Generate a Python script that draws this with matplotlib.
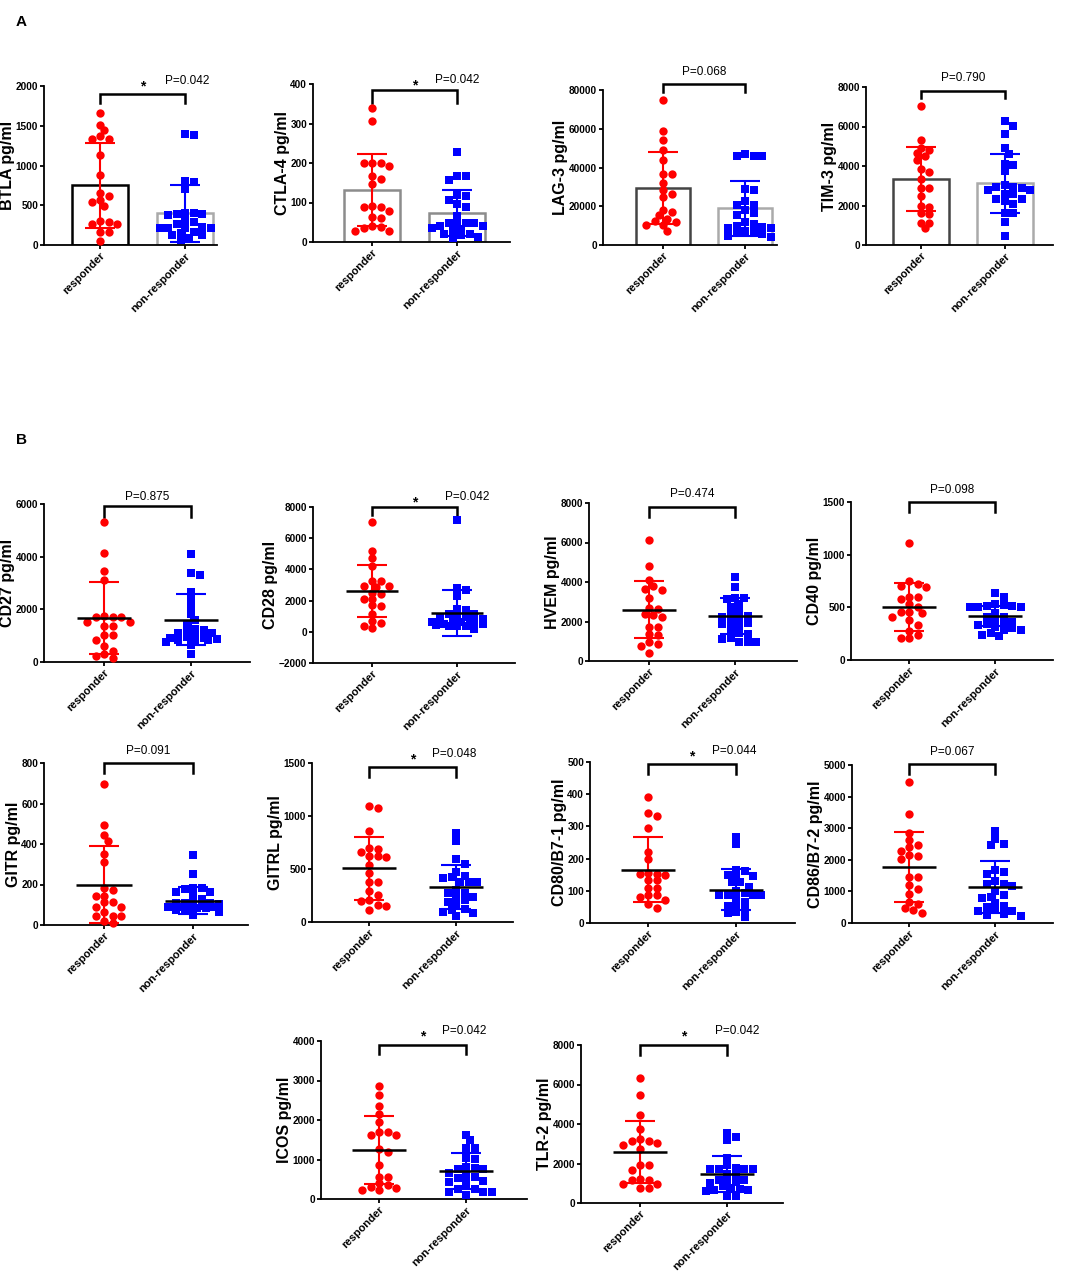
import matplotlib
matplotlib.use('Agg')
import matplotlib.pyplot as plt
from matplotlib.transforms import blended_transform_factory
import numpy as np

plt.rcParams['font.family'] = ['Liberation Sans', 'DejaVu Sans']

W, H = 1084, 1280

groups = ['responder', 'non-responder']

# ------------------------------------------------------------
# values (pg/ml), responder (r) / non-responder (n)
# ------------------------------------------------------------
btla_r = [1665, 1515, 1443, 1372, 1339, 1339, 1138, 879, 657, 615, 565, 544, 494, 305, 285, 264, 264, 159, 159, 46]
btla_n = [1393, 1381, 807, 795, 699, 406, 397, 389, 389, 377, 301, 293, 264, 230, 218, 218, 218, 218, 159, 146, 125, 125, 84, 63]
ctla4_r = [338, 307, 199, 199, 199, 192, 167, 159, 148, 91, 89, 88, 79, 63, 62, 40, 38, 36, 27, 27]
ctla4_n = [228, 167, 167, 158, 118, 116, 106, 95, 89, 65, 49, 48, 47, 47, 41, 41, 36, 34, 28, 21, 19, 17, 13, 10]
lag3_r = [74800, 58900, 54400, 48900, 43700, 36800, 36800, 32000, 28500, 26400, 25000, 18300, 16900, 15500, 13500, 12600, 11700, 10500, 10500, 7400]
lag3_n = [47200, 46000, 46000, 45800, 29000, 28500, 22500, 20900, 20900, 18100, 16400, 15500, 11700, 10900, 10000, 9500, 8600, 8600, 7400, 6900, 6600, 5700, 4500, 4300]
tim3_r = [7020, 5330, 4920, 4820, 4650, 4530, 4310, 3860, 3720, 3350, 2890, 2890, 2500, 1960, 1910, 1610, 1570, 1120, 1120, 850]
tim3_n = [6270, 6050, 5600, 4920, 4620, 4080, 4060, 3770, 3060, 2960, 2960, 2890, 2810, 2810, 2590, 2590, 2330, 2330, 2220, 2080, 1610, 1610, 1180, 470]
cd27_r = [5300, 4150, 3460, 3110, 1740, 1710, 1700, 1690, 1520, 1520, 1370, 1370, 1015, 1015, 850, 610, 420, 320, 230, 165]
cd27_n = [4120, 3390, 3300, 2660, 2380, 2070, 1810, 1590, 1460, 1270, 1205, 1205, 1100, 1100, 1015, 950, 925, 925, 870, 850, 850, 820, 760, 630, 320]
cd28_r = [7040, 5180, 4750, 4200, 3230, 3230, 2910, 2910, 2870, 2510, 2440, 2120, 2120, 1700, 1630, 1160, 690, 580, 370, 240]
cd28_n = [7190, 2830, 2660, 2270, 1440, 1420, 1160, 1120, 1000, 950, 900, 850, 630, 630, 630, 600, 520, 520, 520, 450, 380, 380, 380, 200]
hvem_r = [6140, 4820, 4080, 3800, 3640, 3600, 3180, 2670, 2620, 2370, 2330, 2220, 1740, 1710, 1370, 1320, 950, 860, 780, 420]
hvem_n = [4230, 3740, 3180, 3180, 3150, 2890, 2720, 2500, 2370, 2280, 2220, 2160, 1990, 1940, 1880, 1790, 1570, 1400, 1370, 1150, 1120, 950, 950, 950]
cd40_r = [1112, 748, 717, 701, 695, 600, 600, 575, 530, 505, 458, 458, 448, 410, 380, 332, 278, 237, 205, 205]
cd40_n = [632, 594, 530, 521, 515, 512, 505, 505, 500, 442, 410, 410, 380, 363, 347, 340, 332, 310, 300, 284, 284, 260, 237, 227]
gitr_r = [696, 495, 445, 417, 350, 313, 185, 173, 145, 145, 115, 115, 91, 91, 66, 45, 45, 45, 21, 8]
gitr_n = [346, 251, 185, 181, 178, 165, 165, 145, 127, 112, 107, 107, 107, 102, 95, 91, 91, 91, 87, 86, 86, 80, 74, 66, 50]
gitrl_r = [1096, 1074, 862, 695, 685, 663, 622, 622, 616, 537, 464, 379, 373, 290, 253, 205, 199, 158, 152, 110]
gitrl_n = [837, 764, 590, 546, 474, 433, 420, 411, 379, 379, 373, 300, 275, 275, 237, 237, 205, 190, 174, 126, 117, 95, 85, 54]
cd80_r = [391, 343, 331, 296, 220, 198, 155, 153, 153, 148, 135, 132, 109, 109, 86, 86, 81, 70, 60, 47]
cd80_n = [267, 244, 166, 160, 150, 145, 145, 127, 127, 112, 100, 93, 86, 86, 86, 86, 76, 65, 53, 53, 45, 34, 31, 19]
cd86_r = [4470, 3450, 2850, 2620, 2460, 2410, 2280, 2150, 2110, 2040, 1460, 1440, 1190, 1090, 910, 665, 610, 475, 420, 320]
cd86_n = [2920, 2650, 2515, 2480, 1690, 1620, 1560, 1330, 1250, 1230, 1170, 1015, 877, 825, 790, 645, 530, 510, 400, 380, 370, 296, 243, 222]
icos_r = [2860, 2630, 2360, 2160, 1950, 1700, 1700, 1630, 1630, 1255, 1180, 860, 565, 565, 400, 354, 312, 270, 227, 227]
icos_n = [1630, 1490, 1300, 1280, 1044, 1010, 817, 790, 760, 750, 650, 650, 560, 520, 480, 463, 440, 320, 253, 253, 170, 170, 170, 100]
tlr2_r = [6320, 5470, 4460, 3750, 3230, 3150, 3150, 3030, 2950, 2730, 1940, 1940, 1680, 1230, 1145, 1145, 960, 960, 760, 760]
tlr2_n = [3540, 3320, 3200, 2270, 1940, 1770, 1730, 1730, 1730, 1730, 1465, 1400, 1145, 1145, 1145, 1060, 1010, 840, 760, 710, 670, 670, 590, 370, 340]

names = ['BTLA', 'CTLA-4', 'LAG-3', 'TIM-3', 'CD27', 'CD28', 'HVEM', 'CD40',
         'GITR', 'GITRL', 'CD80/B7-1', 'CD86/B7-2', 'ICOS', 'TLR-2']
resp = [btla_r, ctla4_r, lag3_r, tim3_r, cd27_r, cd28_r, hvem_r, cd40_r,
        gitr_r, gitrl_r, cd80_r, cd86_r, icos_r, tlr2_r]
nonresp = [btla_n, ctla4_n, lag3_n, tim3_n, cd27_n, cd28_n, hvem_n, cd40_n,
           gitr_n, gitrl_n, cd80_n, cd86_n, icos_n, tlr2_n]

# mean and SD as drawn in the figure
mean_r = [753, 131, 29400, 3330, 1670, 2610, 2590, 505, 198, 505, 166, 1775, 1240, 2560]
sd_r = [536, 91, 18800, 1630, 1360, 1690, 1440, 225, 190, 295, 100, 1110, 860, 1570]
mean_n = [397, 74, 19000, 3130, 1610, 1200, 2280, 417, 120, 332, 104, 1140, 707, 1465]
sd_n = [360, 58, 14250, 1500, 970, 1450, 890, 92, 68, 210, 65, 815, 445, 910]

p_values = ['0.042', '0.042', '0.068', '0.790', '0.875', '0.042', '0.474', '0.098',
            '0.091', '0.048', '0.044', '0.067', '0.042', '0.042']
signif = [True, True, False, False, False, True, False, False,
          False, True, True, False, True, True]

y_min = [0, 0, 0, 0, 0, -2000, 0, 0, 0, 0, 0, 0, 0, 0]
y_max = [2000, 400, 80000, 8000, 6000, 8000, 8000, 1500, 800, 1500, 500, 5000, 4000, 8000]
y_step = [500, 100, 20000, 2000, 2000, 2000, 2000, 500, 200, 500, 100, 1000, 1000, 2000]

# ------------------------------------------------------------
# layout in pixels: axis left, axis right, cat0, cat1, top, bottom
# bracket: bar y, tip y, p text y, p text x (in category units)
# ------------------------------------------------------------
rects = [(44, 217, 100, 185, 86, 245), (313, 510, 372, 457, 84, 242),
         (603, 777, 663, 745, 90, 245), (866, 1053, 921, 1005, 87, 245),
         (44, 250, 104, 191, 504, 662), (313, 515, 372, 457, 507, 663),
         (589, 797, 649, 735, 503, 661), (851, 1053, 909, 995, 502, 660),
         (44, 248, 104, 193, 763, 925), (312, 513, 369, 456, 763, 922),
         (590, 795, 648, 736, 762, 923), (852, 1053, 909, 995, 765, 923),
         (321, 527, 379, 466, 1041, 1199), (581, 783, 640, 727, 1045, 1203)]
brackets = [(94, 103, 81, 1.03), (90, 103, 80, 1.0), (84, 92, 72, 0.5), (91, 98, 78, 0.5),
            (506, 517, 497, 0.5), (507, 515, 497, 1.12), (507, 517, 494, 0.5), (502, 512, 490, 0.5),
            (763, 773, 751, 0.5), (767, 777, 754, 0.98), (764, 774, 751, 0.98), (764, 774, 752, 0.5),
            (1045, 1054, 1031, 0.98), (1045, 1055, 1031, 1.12)]

bar_edge_r = ['black', '#8c8c8c', '#444444', '#444444']
bar_edge_n = ['#aaaaaa', '#8c8c8c', '#aaaaaa', '#aaaaaa']

RED = '#ff0000'
BLUE = '#0000ff'


def swarm(vals, px_per_val, d=8.5, yfac=1.4, max_px=27.0):
    # beeswarm in pixel space; points may overlap a little vertically,
    # horizontal spread is limited to +/- max_px
    vals = np.asarray(vals, dtype=float)
    offs = np.zeros(len(vals))
    placed = []
    step = d / 2
    cands = [0.0]
    k = 1
    while k * step <= max_px:
        cands += [k * step, -k * step]
        k += 1
    for i in np.argsort(vals)[::-1]:
        y = vals[i] * px_per_val
        best, best_gap = 0.0, -1.0
        for c in cands:
            gap = min([np.hypot(c - px, (y - py) * yfac) for px, py in placed] + [99.0])
            if gap >= d:
                best = c
                break
            if gap > best_gap:
                best, best_gap = c, gap
        offs[i] = best
        placed.append((best, y))
    return offs


fig = plt.figure(figsize=(W / 100, H / 100), dpi=100)

for i, name in enumerate(names):
    x0, x1, c0, c1, top, bot = rects[i]
    unit = c1 - c0
    ax = fig.add_axes([x0 / W, 1 - bot / H, (x1 - x0) / W, (bot - top) / H])
    ax.set_xlim(-(c0 - x0) / unit, 1 + (x1 - c1) / unit)
    ax.set_ylim(y_min[i], y_max[i])
    px_per_val = (bot - top) / (y_max[i] - y_min[i])

    bar_panel = i < 4
    means = [mean_r[i], mean_n[i]]
    sds = [sd_r[i], sd_n[i]]
    data = [resp[i], nonresp[i]]
    cols = [RED, BLUE]
    mks = ['o', 's']

    if bar_panel:
        ax.bar([0, 1], means, width=0.66, facecolor='white',
               edgecolor=[bar_edge_r[i], bar_edge_n[i]], linewidth=1.8, zorder=1)

    for g in range(2):
        offs = swarm(data[g], px_per_val) / unit
        ax.plot(g + offs, data[g], linestyle='none', marker=mks[g],
                color=cols[g], markersize=6 if g == 0 else 5.6,
                markeredgewidth=0, zorder=3, clip_on=False)
        if not bar_panel:
            ax.hlines(means[g], g - 0.31, g + 0.31, color='black', linewidth=1.8, zorder=5)
        ax.errorbar(g, means[g], yerr=sds[g], color=cols[g], capsize=11,
                    elinewidth=1.5, capthick=1.5, zorder=4)

    # axes styling
    for s in ['top', 'right']:
        ax.spines[s].set_visible(False)
    for s in ['left', 'bottom']:
        ax.spines[s].set_linewidth(1.3)
    ax.set_yticks(np.arange(y_min[i], y_max[i] + 1, y_step[i]))
    ax.set_xticks([0, 1])
    ax.set_xticklabels(groups, rotation=45, ha='right', rotation_mode='anchor',
                       fontsize=8, fontweight='bold')
    ax.tick_params(axis='both', direction='out', length=3, width=1.3, pad=1.2)
    ax.tick_params(axis='y', labelsize=7.2)
    for lab in ax.get_yticklabels():
        lab.set_fontweight('bold')
    ax.set_ylabel(name + ' pg/ml', fontsize=11.5, fontweight='bold', labelpad=0.5)

    # significance bracket
    by, ty, py, pxc = brackets[i]
    tr = blended_transform_factory(ax.transData, fig.transFigure)
    yb, yt, yp = 1 - by / H, 1 - ty / H, 1 - py / H
    ax.plot([0, 0, 1, 1], [yt, yb, yb, yt], color='black', linewidth=1.8,
            transform=tr, clip_on=False, solid_joinstyle='miter')
    ax.text(pxc, yp, 'P=' + p_values[i], transform=tr, ha='center', va='center',
            fontsize=8.5)
    if signif[i]:
        ax.text(0.5, yp - 5 / H, '*', transform=tr, ha='center', va='center',
                fontsize=10, fontweight='bold')

fig.text(16 / W, 1 - 22 / H, 'A', fontsize=11, fontweight='bold', va='center')
fig.text(16 / W, 1 - 440 / H, 'B', fontsize=11, fontweight='bold', va='center')

fig.savefig('out.png', dpi=100)
